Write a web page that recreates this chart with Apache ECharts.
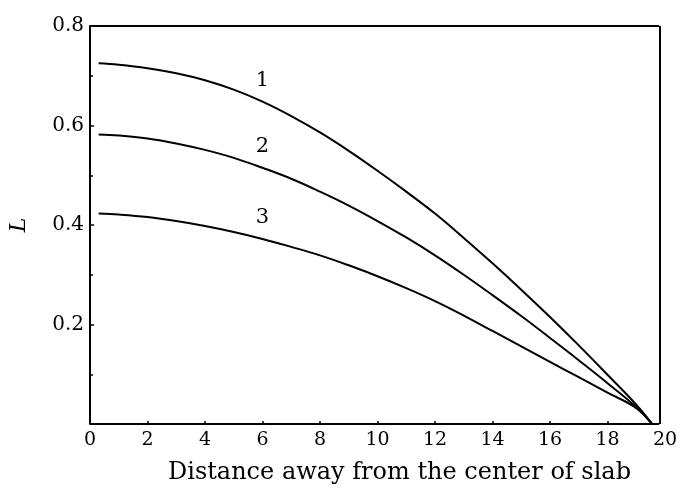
<!DOCTYPE html>
<html>
<head>
<meta charset="utf-8">
<script src="https://cdn.jsdelivr.net/npm/echarts@6/dist/echarts.min.js"></script>
<style>html,body{margin:0;padding:0;background:#fff;}#c{width:681px;height:490px;}</style>
</head>
<body>
<div id="c"></div>
<script>
// ---- data ----
const xs     = [0.3, 1, 2, 3, 4, 5, 6, 7, 8, 9, 10, 11, 12, 13, 14, 15, 16, 17, 18, 19, 19.55];
const curve1 = [0.725, 0.722, 0.715, 0.705, 0.691, 0.672, 0.648, 0.619, 0.586, 0.549, 0.509, 0.467, 0.423, 0.374, 0.323, 0.270, 0.215, 0.158, 0.099, 0.039, 0];
const curve2 = [0.582, 0.580, 0.574, 0.564, 0.551, 0.535, 0.515, 0.493, 0.467, 0.439, 0.408, 0.375, 0.339, 0.300, 0.259, 0.217, 0.173, 0.128, 0.082, 0.034, 0];
const curve3 = [0.423, 0.421, 0.416, 0.408, 0.398, 0.386, 0.372, 0.356, 0.339, 0.319, 0.297, 0.273, 0.247, 0.218, 0.187, 0.156, 0.125, 0.094, 0.063, 0.032, 0];
const curveNames = ['1', '2', '3'];
const labelAtX = 6;
const xTickLabels = [0, 2, 4, 6, 8, 10, 12, 14, 16, 18, 20];
const xTicks = [0, 2, 4, 6, 8, 10, 12, 14, 16, 18];
const frameRightX = 19.8;
const yMin = 0, yMax = 0.8;

const FONT = 'DejaVu Serif';
const chart = echarts.init(document.getElementById('c'), null, {renderer: 'canvas'});
const curves = [curve1, curve2, curve3];

const series = curves.map((c, i) => {
  const li = xs.indexOf(labelAtX);
  return {
    type: 'line',
    name: curveNames[i],
    data: xs.map((x, j) => [x, c[j]]),
    smooth: 0.4,
    showSymbol: false,
    symbol: 'none',
    lineStyle: {color: '#000', width: 2},
    emphasis: {disabled: true},
    silent: true,
    clip: false,
    markPoint: {
      silent: true,
      symbol: 'circle',
      symbolSize: 0,
      itemStyle: {color: 'transparent'},
      label: {
        show: true, position: 'top', distance: 11,
        formatter: curveNames[i],
        color: '#000', fontFamily: FONT, fontSize: 21
      },
      data: [{coord: [labelAtX, c[li]]}]
    }
  };
});

// frame (top, right, bottom edges)
series.push({
  type: 'line',
  data: [],
  silent: true,
  markLine: {
    silent: true,
    symbol: 'none',
    animation: false,
    label: {show: false},
    emphasis: {disabled: true},
    lineStyle: {color: '#000', width: 2, type: 'solid'},
    data: [
      [{coord: [0, yMax]}, {coord: [frameRightX, yMax]}],
      [{coord: [frameRightX, yMin]}, {coord: [frameRightX, yMax]}],
      [{coord: [0, yMin]}, {coord: [frameRightX, yMin]}]
    ]
  }
});

chart.setOption({
  animation: false,
  backgroundColor: '#fff',
  grid: {left: 88, right: 16, top: 26, bottom: 62, containLabel: false},
  xAxis: {
    type: 'value', min: 0, max: 20, interval: 2,
    name: 'Distance away from the center of slab',
    nameLocation: 'middle', nameGap: 37,
    nameTextStyle: {fontFamily: FONT, fontSize: 24, color: '#000', padding: [0, 0, 0, 44]},
    axisLine: {show: false},
    axisTick: {show: true, inside: true, length: 3, customValues: xTicks, lineStyle: {color: '#000', width: 1.5}},
    axisLabel: {customValues: xTickLabels, color: '#000', fontFamily: FONT, fontSize: 19, margin: 7},
    splitLine: {show: false}
  },
  yAxis: {
    type: 'value', min: yMin, max: yMax, interval: 0.2,
    name: 'L',
    nameLocation: 'middle', nameGap: 60, nameRotate: 90,
    nameTextStyle: {fontFamily: FONT, fontStyle: 'italic', fontSize: 22, color: '#000'},
    axisLine: {show: true, lineStyle: {color: '#000', width: 2}},
    axisTick: {show: true, inside: true, length: 4, lineStyle: {color: '#000', width: 1.5}},
    minorTick: {show: true, splitNumber: 2, length: 3, lineStyle: {color: '#000', width: 1.5}},
    axisLabel: {
      color: '#000', fontFamily: FONT, fontSize: 20, margin: 6,
      formatter: v => (v === 0 ? '' : v.toFixed(1))
    },
    splitLine: {show: false}
  },
  series: series
});
</script>
</body>
</html>
